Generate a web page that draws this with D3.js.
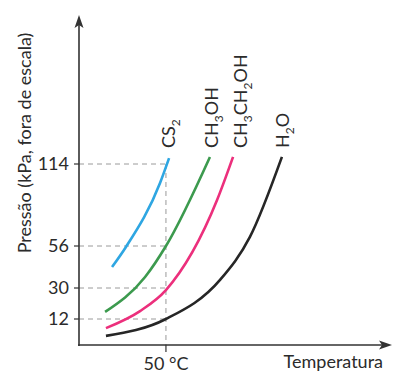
<!DOCTYPE html>
<html>
<head>
<meta charset="utf-8">
<script src="https://cdn.jsdelivr.net/npm/d3@7"></script>
<style>
  body { margin: 0; background: #fff; }
  text { font-family: Lato, "Liberation Sans", sans-serif; fill: #2b2b2b; }
</style>
</head>
<body>
<svg class="chart" width="415" height="384"></svg>
<script>
// values (temperature in °C, pressure in kPa)
const pressTicks = [12, 30, 56, 114];
const tempTicks = [50];

const cs2T = [19, 27, 46.6, 51.8];
const cs2P = [43, 55.4, 100.6, 118.2];
const metT = [15, 38, 50, 75.3];
const metP = [16.1, 36.8, 56, 119];
const etT = [15.5, 35.1, 50, 79.4, 88.6];
const etP = [7.8, 16.6, 28.8, 88.5, 119];
const waterT = [15.5, 50, 81.1, 98.3, 116.7];
const waterP = [4.2, 12, 35, 62.4, 119];

const seriesList = [
    {name: ["CS", "2"], T: cs2T, P: cs2P, color: "#2ea6e2", lx: 175},
    {name: ["CH", "3", "OH"], T: metT, P: metP, color: "#3c9a4e", lx: 218},
    {name: ["CH", "3", "CH", "2", "OH"], T: etT, P: etP, color: "#ec2f7c", lx: 247},
    {name: ["H", "2", "O"], T: waterT, P: waterP, color: "#262626", lx: 289}
];

const svg = d3.select("svg.chart");

const x = d3.scaleLinear().domain([0, 180]).range([79, 392]);
// "fora de escala": the pressure axis is not linear, so piecewise
const y = d3.scaleLinear().domain([0, 12, 30, 56, 114]).range([345, 319, 288, 246, 164]);

// dashed guides
const guides = svg.append("g")
    .attr("stroke", "#9a9a9a")
    .attr("stroke-width", 1)
    .attr("stroke-dasharray", "5,4");

pressTicks.forEach(p => {
    guides.append("line")
        .attr("x1", x(0)).attr("x2", x(tempTicks[0]))
        .attr("y1", y(p)).attr("y2", y(p));
});
guides.append("line")
    .attr("x1", x(tempTicks[0])).attr("x2", x(tempTicks[0]))
    .attr("y1", y(114)).attr("y2", y(0));

// curves
const line = d3.line()
    .x(d => x(d[0]))
    .y(d => y(d[1]))
    .curve(d3.curveMonotoneX);

seriesList.forEach(s => {
    svg.append("path")
        .datum(s.T.map((t, i) => [t, s.P[i]]))
        .attr("d", line)
        .attr("fill", "none")
        .attr("stroke", s.color)
        .attr("stroke-width", 2.6);

    // rotated label with subscripts
    const label = svg.append("text")
        .attr("transform", `translate(${s.lx},148) rotate(-90)`)
        .style("font-size", "18px");
    s.name.forEach((part, i) => {
        const isSub = i % 2 === 1;
        label.append("tspan")
            .text(part)
            .attr("dy", isSub ? 5 : (i > 0 ? -5 : 0))
            .style("font-size", isSub ? "12px" : "18px");
    });
});

// axes
const axisColor = "#333";
svg.append("line")
    .attr("x1", x(0)).attr("x2", x(0))
    .attr("y1", y(0) + 1).attr("y2", 24)
    .attr("stroke", axisColor).attr("stroke-width", 1.6);
svg.append("path")
    .attr("d", `M${x(0)},15 L${x(0) - 4.5},28 L${x(0)},25 L${x(0) + 4.5},28 Z`)
    .attr("fill", axisColor);

svg.append("line")
    .attr("x1", x(0) - 1).attr("x2", 383)
    .attr("y1", y(0)).attr("y2", y(0))
    .attr("stroke", axisColor).attr("stroke-width", 1.6);
svg.append("path")
    .attr("d", `M392,${y(0)} L379,${y(0) - 4.5} L382,${y(0)} L379,${y(0) + 4.5} Z`)
    .attr("fill", axisColor);

// ticks and tick labels
pressTicks.forEach(p => {
    svg.append("line")
        .attr("x1", x(0) - 5).attr("x2", x(0))
        .attr("y1", y(p)).attr("y2", y(p))
        .attr("stroke", axisColor).attr("stroke-width", 1.2);
    svg.append("text")
        .attr("x", 69).attr("y", y(p) + 6)
        .attr("text-anchor", "end")
        .style("font-size", "18px")
        .text(p);
});

tempTicks.forEach(t => {
    svg.append("line")
        .attr("x1", x(t)).attr("x2", x(t))
        .attr("y1", y(0)).attr("y2", y(0) + 7)
        .attr("stroke", axisColor).attr("stroke-width", 1.2);
    svg.append("text")
        .attr("x", x(t)).attr("y", 370)
        .attr("text-anchor", "middle")
        .style("font-size", "18px")
        .text(`${t} °C`);
});

svg.append("text")
    .attr("x", 383).attr("y", 368)
    .attr("text-anchor", "end")
    .style("font-size", "18px")
    .text("Temperatura");

svg.append("text")
    .attr("transform", "translate(31,143) rotate(-90)")
    .attr("text-anchor", "middle")
    .style("font-size", "18px")
    .text("Pressão (kPa, fora de escala)");
</script>
</body>
</html>
